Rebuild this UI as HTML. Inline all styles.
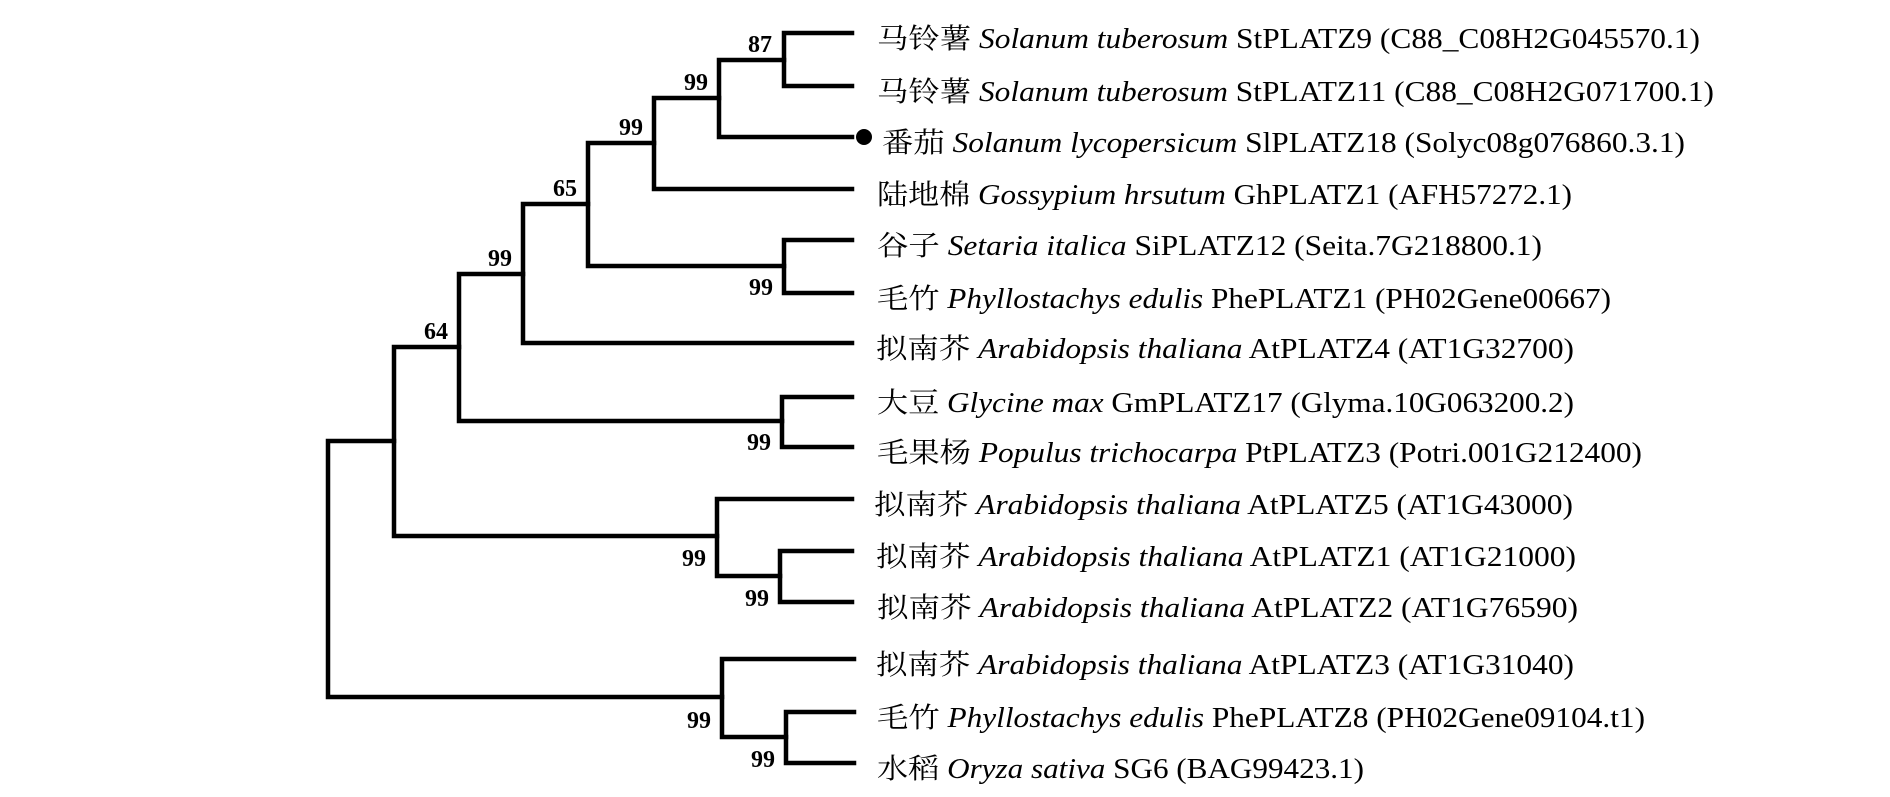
<!DOCTYPE html>
<html><head><meta charset="utf-8"><style>
html,body{margin:0;padding:0;background:#fff;}
svg{display:block;}
.t{font-family:"Liberation Serif","Noto Serif CJK SC","Noto Sans CJK SC",serif;font-size:28px;fill:#000;}
.b{font-family:"Liberation Serif",serif;font-size:24px;font-weight:bold;fill:#000;text-anchor:end;}
</style></head><body>
<svg width="1890" height="797" viewBox="0 0 1890 797" xmlns="http://www.w3.org/2000/svg">
<g stroke="#000" stroke-width="4.5" fill="none" stroke-linecap="square">
<path d="M852 33 H784 V86 H852"/>
<path d="M784 60 H719 V137 H852"/>
<path d="M719 98 H654 V189 H852"/>
<path d="M852 240 H784 V293 H852"/>
<path d="M654 143 H588 V266 H784"/>
<path d="M588 204 H523 V343 H852"/>
<path d="M852 397 H782 V447 H852"/>
<path d="M523 274 H459 V421 H782"/>
<path d="M852 551 H780 V602 H852"/>
<path d="M852 499 H717 V576 H780"/>
<path d="M459 347 H394 V536 H717"/>
<path d="M854 712 H786 V763 H854"/>
<path d="M854 659 H722 V737 H786"/>
<path d="M394 441 H328 V697 H722"/>
</g>
<circle cx="864" cy="137" r="8" fill="#000"/>
<g>
<text class="b" x="772" y="52">87</text>
<text class="b" x="708" y="90">99</text>
<text class="b" x="643" y="135">99</text>
<text class="b" x="577" y="196">65</text>
<text class="b" x="512" y="266">99</text>
<text class="b" x="448" y="339">64</text>
<text class="b" x="773" y="295">99</text>
<text class="b" x="771" y="450">99</text>
<text class="b" x="706" y="566">99</text>
<text class="b" x="769" y="606">99</text>
<text class="b" x="711" y="728">99</text>
<text class="b" x="775" y="767">99</text>
</g>
<g class="t">
<text x="877" y="48" textLength="823" lengthAdjust="spacingAndGlyphs">马铃薯 <tspan font-style="italic">Solanum tuberosum</tspan> StPLATZ9 (C88_C08H2G045570.1)</text>
<text x="877" y="101" textLength="837" lengthAdjust="spacingAndGlyphs">马铃薯 <tspan font-style="italic">Solanum tuberosum</tspan> StPLATZ11 (C88_C08H2G071700.1)</text>
<text x="882" y="152" textLength="803" lengthAdjust="spacingAndGlyphs">番茄 <tspan font-style="italic">Solanum lycopersicum</tspan> SlPLATZ18 (Solyc08g076860.3.1)</text>
<text x="877" y="204" textLength="695" lengthAdjust="spacingAndGlyphs">陆地棉 <tspan font-style="italic">Gossypium hrsutum</tspan> GhPLATZ1 (AFH57272.1)</text>
<text x="877" y="255" textLength="665" lengthAdjust="spacingAndGlyphs">谷子 <tspan font-style="italic">Setaria italica</tspan> SiPLATZ12 (Seita.7G218800.1)</text>
<text x="877" y="308" textLength="734" lengthAdjust="spacingAndGlyphs">毛竹 <tspan font-style="italic">Phyllostachys edulis</tspan> PhePLATZ1 (PH02Gene00667)</text>
<text x="876" y="358" textLength="698" lengthAdjust="spacingAndGlyphs">拟南芥 <tspan font-style="italic">Arabidopsis thaliana</tspan> AtPLATZ4 (AT1G32700)</text>
<text x="877" y="412" textLength="697" lengthAdjust="spacingAndGlyphs">大豆 <tspan font-style="italic">Glycine max</tspan> GmPLATZ17 (Glyma.10G063200.2)</text>
<text x="877" y="462" textLength="765" lengthAdjust="spacingAndGlyphs">毛果杨 <tspan font-style="italic">Populus trichocarpa</tspan> PtPLATZ3 (Potri.001G212400)</text>
<text x="874" y="514" textLength="699" lengthAdjust="spacingAndGlyphs">拟南芥 <tspan font-style="italic">Arabidopsis thaliana</tspan> AtPLATZ5 (AT1G43000)</text>
<text x="876" y="566" textLength="700" lengthAdjust="spacingAndGlyphs">拟南芥 <tspan font-style="italic">Arabidopsis thaliana</tspan> AtPLATZ1 (AT1G21000)</text>
<text x="877" y="617" textLength="701" lengthAdjust="spacingAndGlyphs">拟南芥 <tspan font-style="italic">Arabidopsis thaliana</tspan> AtPLATZ2 (AT1G76590)</text>
<text x="876" y="674" textLength="698" lengthAdjust="spacingAndGlyphs">拟南芥 <tspan font-style="italic">Arabidopsis thaliana</tspan> AtPLATZ3 (AT1G31040)</text>
<text x="877" y="727" textLength="768" lengthAdjust="spacingAndGlyphs">毛竹 <tspan font-style="italic">Phyllostachys edulis</tspan> PhePLATZ8 (PH02Gene09104.t1)</text>
<text x="877" y="778" textLength="487" lengthAdjust="spacingAndGlyphs">水稻 <tspan font-style="italic">Oryza sativa</tspan> SG6 (BAG99423.1)</text>
</g>
</svg>
</body></html>
